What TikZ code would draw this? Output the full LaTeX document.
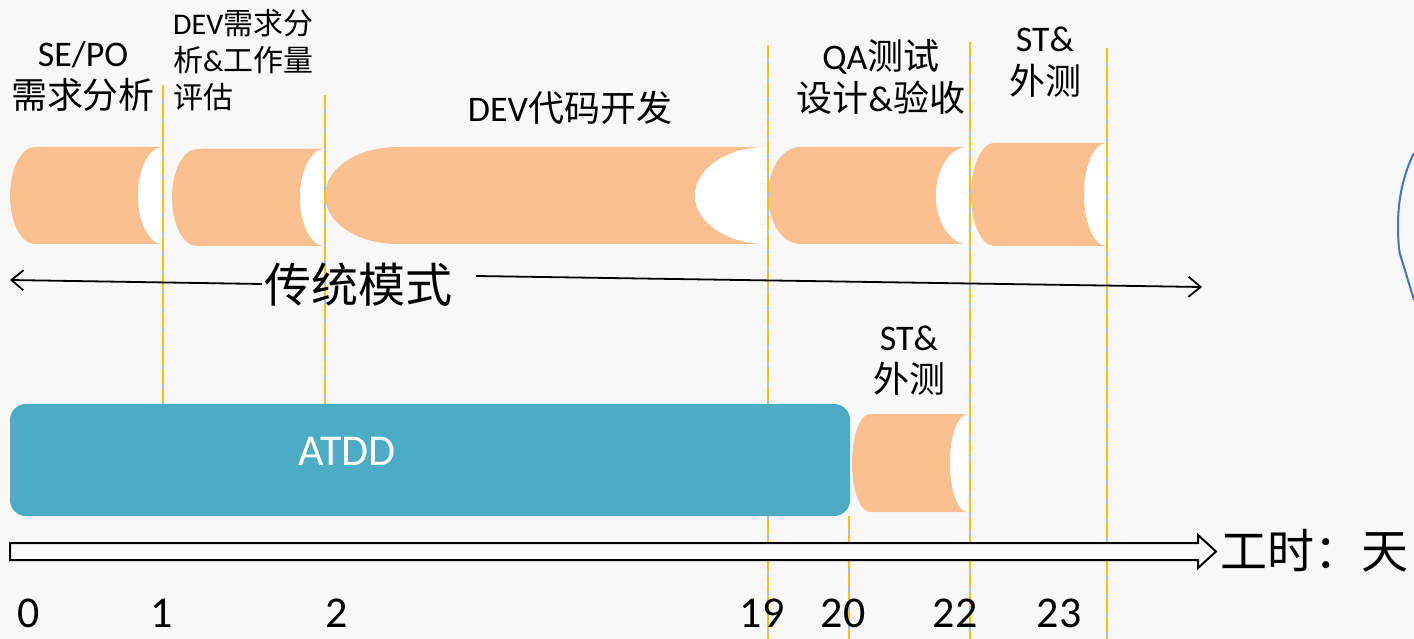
\documentclass[tikz,border=0pt]{standalone}
\usepackage{fontspec}
\setmainfont{Carlito}
\newfontfamily\cjk{Noto Sans CJK SC}
\usetikzlibrary{arrows.meta}
\definecolor{cylfill}{HTML}{FAC090}
\definecolor{atddfill}{HTML}{4BACC6}
\definecolor{vorange}{HTML}{FFC000}
\definecolor{vblue}{HTML}{9DC3E6}
\definecolor{bgcol}{HTML}{F8F8F8}
\definecolor{curveblue}{HTML}{4472C4}
\newcommand\mycyl[5]{%
  \pgfmathsetmacro\cyry{(#4-#3)/2}%
  \pgfmathsetmacro\cyxa{#1+#5}%
  \fill[cylfill] (#2,-#3) -- (\cyxa,-#3) arc[start angle=90,end angle=270,x radius=#5,y radius=\cyry] -- (#2,-#4) arc[start angle=270,end angle=90,x radius=#5,y radius=\cyry] -- cycle;
  \fill[white] (#2,-#3) arc[start angle=90,end angle=270,x radius=#5,y radius=\cyry] -- cycle;
}
\tikzset{
  vline/.style={draw=vblue, line width=1.7pt, postaction={draw=vorange, line width=1.7pt, dash pattern=on 14pt off 5pt}},
  lbl/.style={inner sep=0pt, text=black, align=center},
  num/.style={inner sep=0pt, text=black, font=\fontsize{44}{50}\selectfont},
  modearrow/.style={-{Straight Barb[length=12pt,width=20pt]}, line width=1.8pt, black}
}
\begin{document}
\begin{tikzpicture}[x=1pt,y=1pt]
\useasboundingbox (0,0) rectangle (1414,-639);
\fill[bgcol] (0,0) rectangle (1414,-639);

% cylinders
\mycyl{10}{163}{147}{244}{25}
\mycyl{172}{325}{149}{246}{25}
\mycyl{325}{767}{147}{244}{72}
\mycyl{768}{968}{147}{244}{32}
\mycyl{971}{1107}{143}{246}{23}
\mycyl{852}{968}{414}{512}{18}

% vertical dashed lines
\draw[vline] (163,-85) -- (163,-404);
\draw[vline] (325,-95) -- (325,-404);
\draw[vline] (768,-45) -- (768,-639);
\draw[vline] (849,-516) -- (849,-639);
\draw[vline] (970,-42) -- (970,-639);
\draw[vline] (1107,-48) -- (1107,-639);

% ATDD box
\fill[atddfill, rounded corners=16pt] (10,-404) rectangle (850,-516);
\node[lbl, text=white, font=\fontsize{44}{50}\selectfont] (atdd) at (347,-451) {ATDD};

% labels
\node[lbl, font=\fontsize{36}{42}\selectfont] (sepo) at (83,-76) {SE/PO\\{\cjk 需求分析}};
\node[lbl, align=left, anchor=west, font=\fontsize{30}{37}\selectfont] (devreq) at (173,-60) {DEV{\cjk 需求分}\\{\cjk 析}\&{\cjk 工作量}\\{\cjk 评估}};
\node[lbl, font=\fontsize{36}{42}\selectfont] (devcode) at (570,-108) {DEV{\cjk 代码开发}};
\node[lbl, font=\fontsize{36}{42}\selectfont] (qa) at (881,-77) {QA{\cjk 测试}\\{\cjk 设计}\&{\cjk 验收}};
\node[lbl, font=\fontsize{36}{43}\selectfont] (sttop) at (1045,-62) {ST\&\\{\cjk 外测}};
\node[lbl, font=\fontsize{36}{42}\selectfont] (stbot) at (909,-361) {ST\&\\{\cjk 外测}};

% traditional mode
\node[lbl, font=\fontsize{47}{52}\selectfont\cjk] (trad) at (358,-285) {传统模式};
\coordinate (tl) at (10,-280);
\coordinate (tr) at (1202,-287);
\draw[modearrow] ([xshift=-2pt,yshift=1pt]trad.west) -- (tl);
\draw[modearrow] ([xshift=24pt,yshift=9pt]trad.east) -- (tr);

% time axis block arrow
\draw[line width=2pt, fill=white!60!bgcol, line join=miter] (10,-543) -- (1198,-543) -- (1198,-535) -- (1216,-551.5) -- (1198,-568) -- (1198,-560) -- (10,-560) -- cycle;
\node[lbl, anchor=west, font=\fontsize{47}{52}\selectfont\cjk] (unit) at (1220,-551) {工时：天};

% numbers
\node[num] (n0) at (29,-613) {0};
\node[num] (n1) at (162,-613) {1};
\node[num] (n2) at (337,-613) {2};
\node[num] (n19) at (762,-613) {19};
\node[num] (n20) at (843,-613) {20};
\node[num] (n22) at (955,-613) {22};
\node[num] (n23) at (1059,-613) {23};

% partial blue curve on the right edge
\draw[curveblue, line width=2pt] (1414,-153) .. controls (1403,-175) and (1398,-200) .. (1398,-225) .. controls (1398,-240) and (1399,-250) .. (1400,-254) -- (1414,-300);
\end{tikzpicture}
\end{document}
